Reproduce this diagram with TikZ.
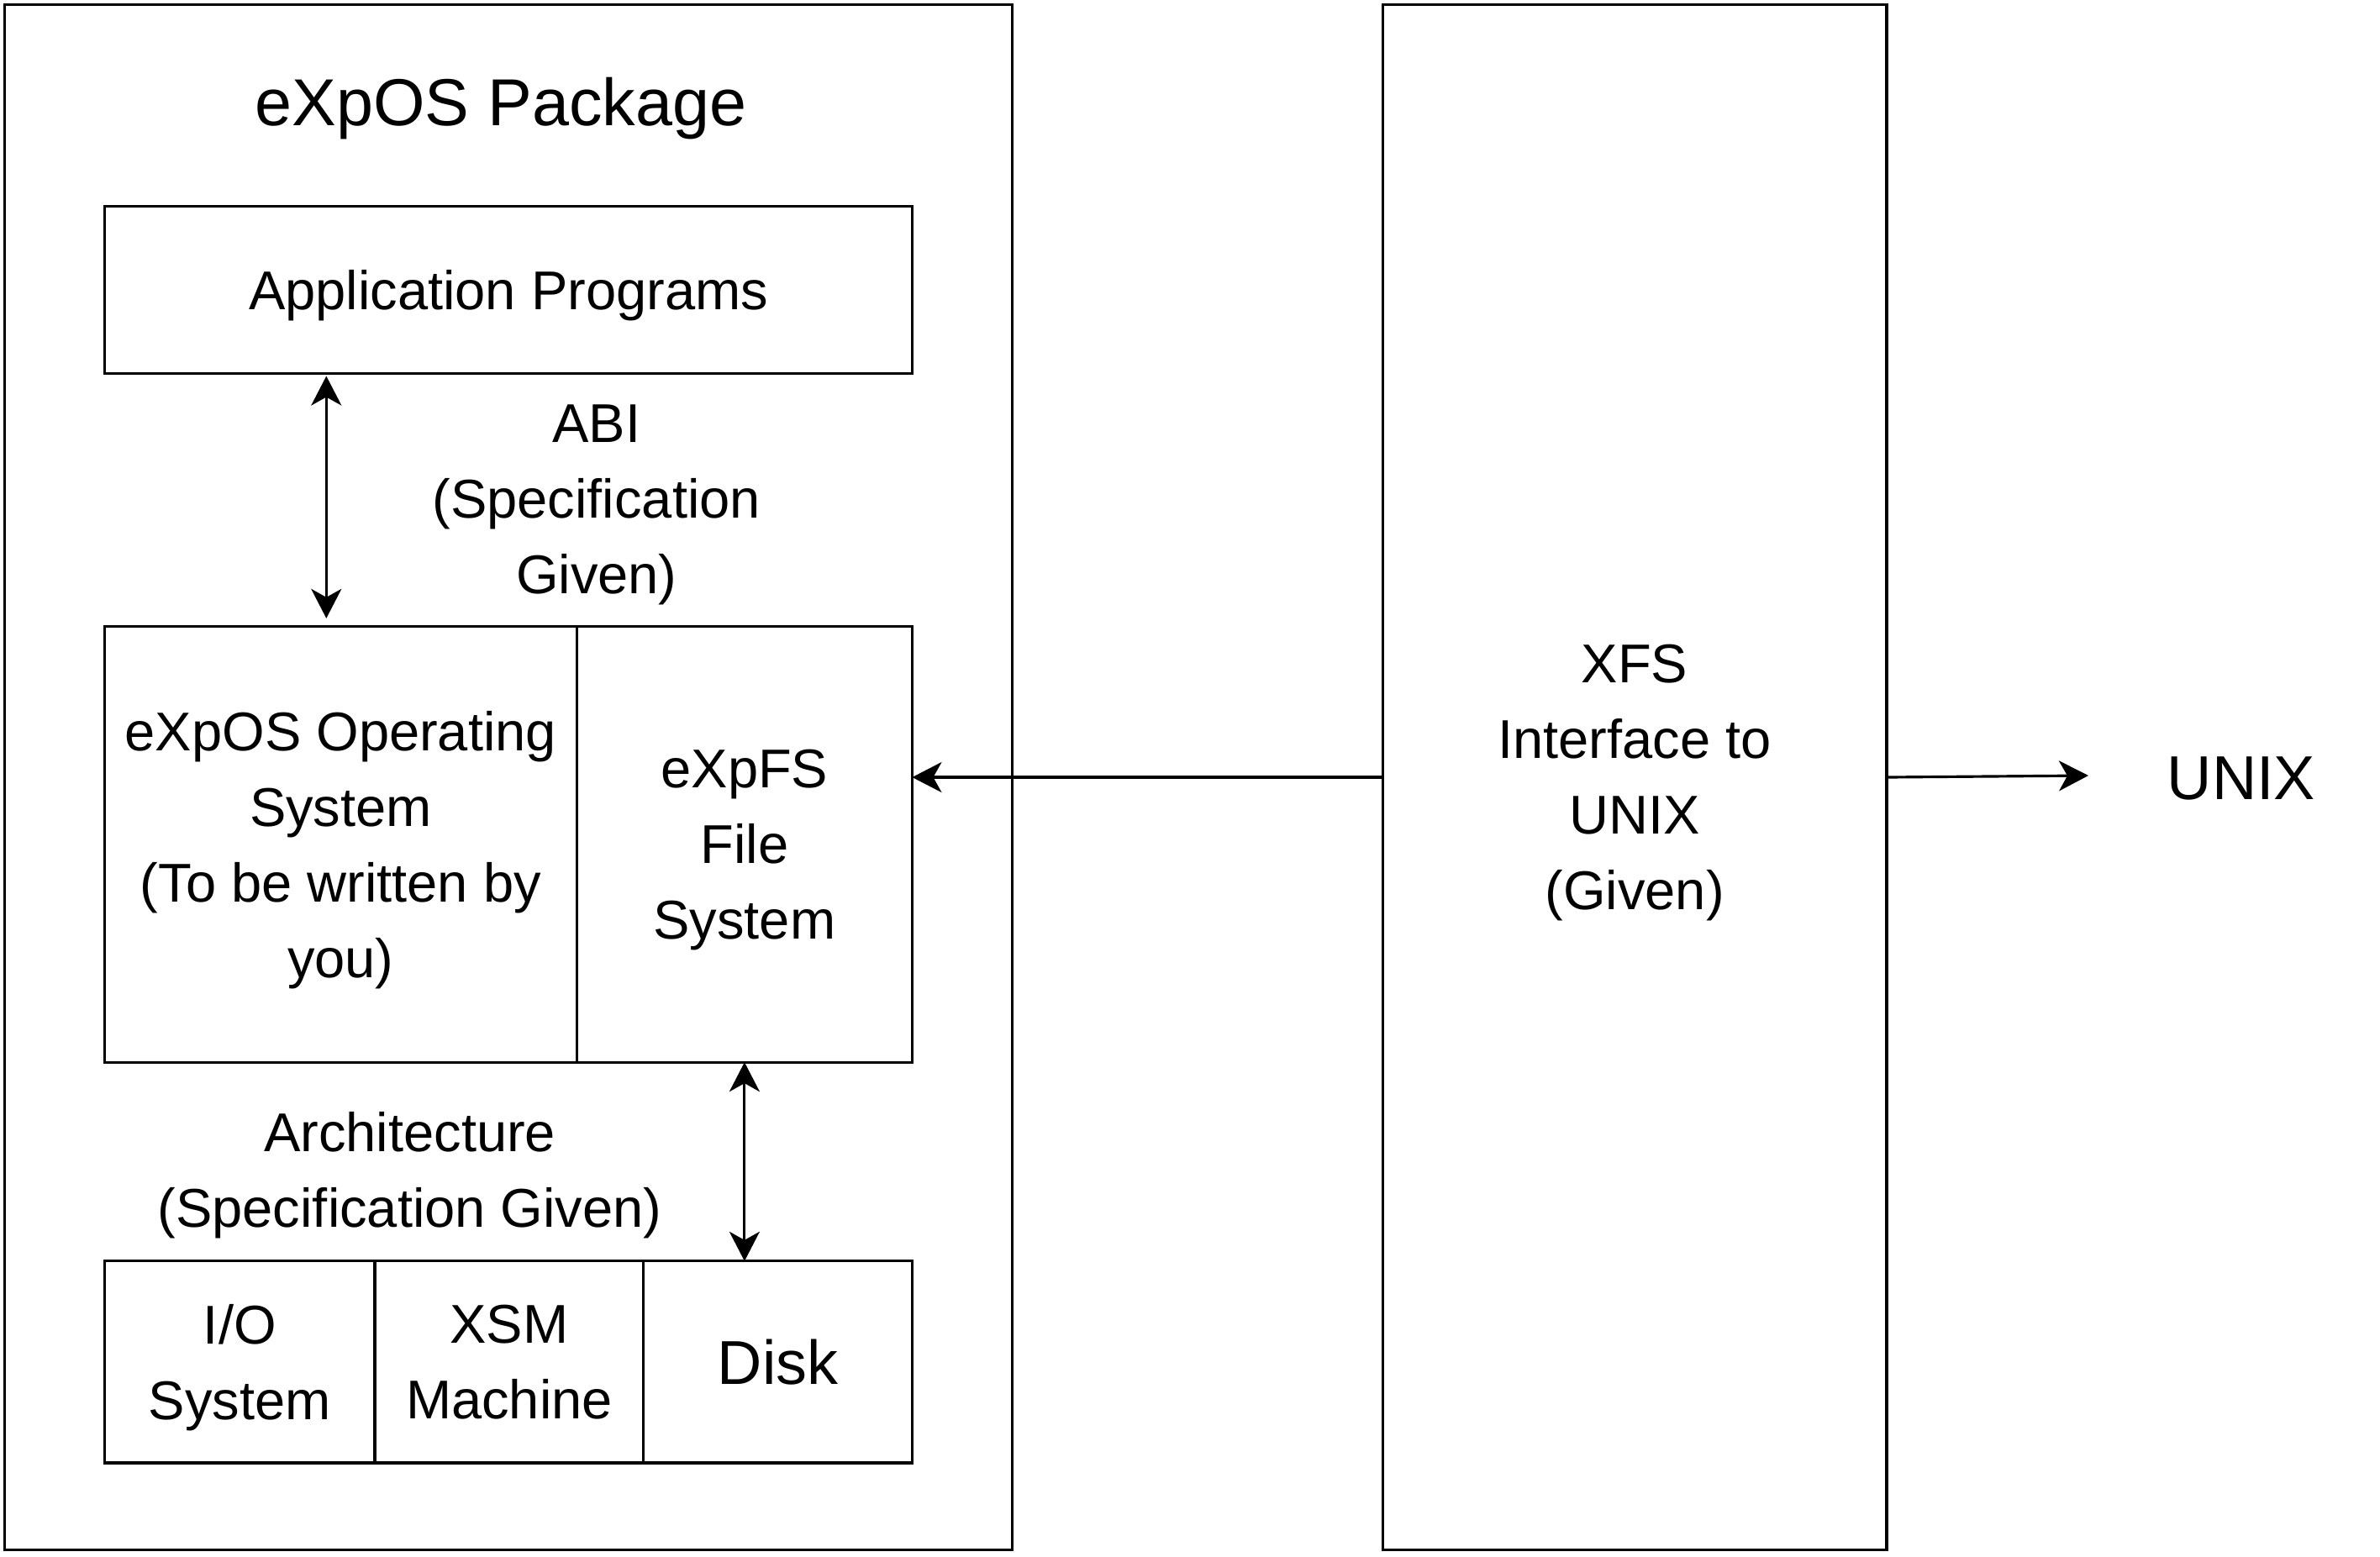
\documentclass[tikz,border=0pt]{standalone}
\usepackage{fontspec}
\setmainfont{Liberation Sans}
\usetikzlibrary{arrows.meta}
\newcommand{\diagfont}{\fontsize{18.5}{25.6}\selectfont}
\newcommand{\diagbigfont}{\fontsize{21}{26}\selectfont}
\newcommand{\diagtitlefont}{\fontsize{22.5}{27}\selectfont}

\begin{document}
\begin{tikzpicture}[
	blk/.style={draw, line width=0.9pt, inner sep=0pt, outer sep=0pt, align=center, text depth=0pt, font=\diagfont},
	txt/.style={align=center, text depth=0pt, font=\diagfont},
	link/.style={line width=0.9pt, -{Stealth[length=3.5mm, width=3.6mm, inset=1mm]}},
	dlink/.style={line width=0.9pt, {Stealth[length=3.5mm, width=3.6mm, inset=1mm]}-{Stealth[length=3.5mm, width=3.6mm, inset=1mm]}}
]
		\useasboundingbox (0,0) rectangle (28.32,-18.52);

		% eXpOS side
		\node[blk, minimum width=11.99cm, minimum height=18.39cm] (pkg) at (6.05,-9.25) {};
		\node[txt, font=\diagtitlefont] (title) at (5.96,-1.21) {eXpOS Package};
		\node[blk, minimum width=9.61cm, minimum height=1.99cm] (app) at (6.05,-3.45) {Application Programs};
		\node[blk, minimum width=5.617cm, minimum height=5.183cm] (os) at (4.054,-10.05) {eXpOS Operating\\System\\(To be written by\\you)};
		\node[blk, minimum width=3.991cm, minimum height=5.183cm] (fs) at (8.859,-10.05) {eXpFS\\File\\System};
		\node[blk, minimum width=3.215cm, minimum height=2.402cm] (io) at (2.853,-16.209) {I/O\\System};
		\node[blk, minimum width=3.196cm, minimum height=2.402cm] (xsm) at (6.059,-16.209) {XSM\\Machine};
		\node[blk, minimum width=3.197cm, minimum height=2.402cm, font=\diagbigfont] (disk) at (9.255,-16.209) {Disk};
		\node[txt] (abi) at (7.098,-5.942) {ABI\\(Specification\\Given)};
		\node[txt] (arch) at (4.876,-13.92) {Architecture\\(Specification Given)};

		% XFS side
		\node[blk, minimum width=5.996cm, minimum height=18.39cm] (xfs) at (19.451,-9.25) {XFS\\Interface to\\UNIX\\(Given)};
		\node[txt, font=\diagbigfont] (unix) at (26.67,-9.26) {UNIX};

		\coordinate (abix) at (3.883,0);
		\coordinate (unixend) at (24.85,-9.23);

		\draw[dlink, shorten >=0.1cm, shorten <=0.03cm] (app.south -| abix) -- (os.north -| abix);
		\draw[dlink] (fs.south) -- (fs.south |- disk.north);
		\draw[link] (xfs.west) -- (xfs.west -| fs.east);
		\draw[link] (xfs.east) -- (unixend);

	\end{tikzpicture}
\end{document}
